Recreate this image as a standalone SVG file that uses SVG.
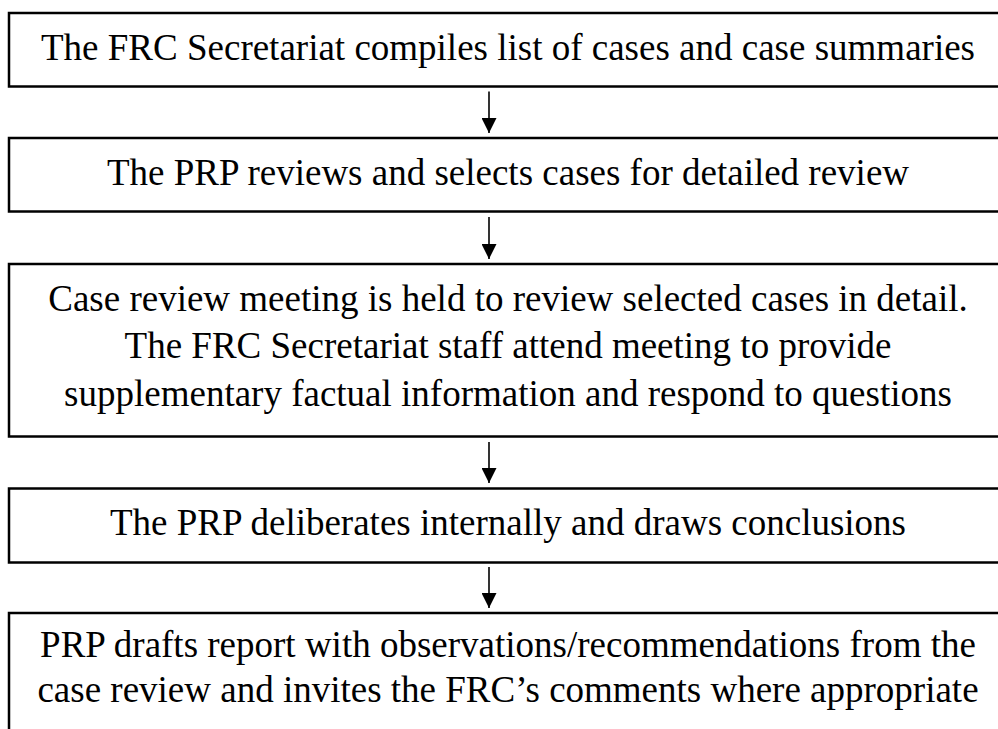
<svg xmlns="http://www.w3.org/2000/svg" width="998" height="729" viewBox="0 0 998 729">
  <style>
    .box { fill: #ffffff; stroke: #000000; stroke-width: 2.5; }
    .lbl { font-family: "Liberation Serif", "Times New Roman", serif; font-size: 37px; fill: #000000; text-anchor: middle; }
    .flow { stroke: #000000; stroke-width: 1.6; fill: none; }
  </style>
  <defs>
    <marker id="head" viewBox="0 0 10 10" refX="10" refY="5" markerWidth="15" markerHeight="15" markerUnits="userSpaceOnUse" orient="auto">
      <path d="M0,0 L10,5 L0,10 Z" fill="#000000"/>
    </marker>
  </defs>
  <rect x="0" y="0" width="998" height="729" fill="#ffffff"/>

  <g id="step1">
    <rect class="box" x="9" y="13" width="992" height="73.5"/>
    <text class="lbl" x="508" y="60">The FRC Secretariat compiles list of cases and case summaries</text>
  </g>
  <g id="step2">
    <rect class="box" x="9" y="138" width="992" height="73.5"/>
    <text class="lbl" x="508" y="185">The PRP reviews and selects cases for detailed review</text>
  </g>
  <g id="step3">
    <rect class="box" x="9" y="264" width="992" height="172.5"/>
    <text class="lbl" x="508" y="311">Case review meeting is held to review selected cases in detail.</text>
    <text class="lbl" x="508" y="358">The FRC Secretariat staff attend meeting to provide</text>
    <text class="lbl" x="508" y="406">supplementary factual information and respond to questions</text>
  </g>
  <g id="step4">
    <rect class="box" x="9" y="488.5" width="992" height="74"/>
    <text class="lbl" x="508" y="535">The PRP deliberates internally and draws conclusions</text>
  </g>
  <g id="step5">
    <rect class="box" x="9" y="613" width="992" height="130"/>
    <text class="lbl" x="508" y="657">PRP drafts report with observations/recommendations from the</text>
    <text class="lbl" x="508" y="702">case review and invites the FRC’s comments where appropriate</text>
  </g>

  <g id="connectors">
    <line class="flow" x1="489" y1="91.5" x2="489" y2="133" marker-end="url(#head)"/>
    <line class="flow" x1="489" y1="217" x2="489" y2="259" marker-end="url(#head)"/>
    <line class="flow" x1="489" y1="442" x2="489" y2="483" marker-end="url(#head)"/>
    <line class="flow" x1="489" y1="567" x2="489" y2="608" marker-end="url(#head)"/>
  </g>
</svg>
